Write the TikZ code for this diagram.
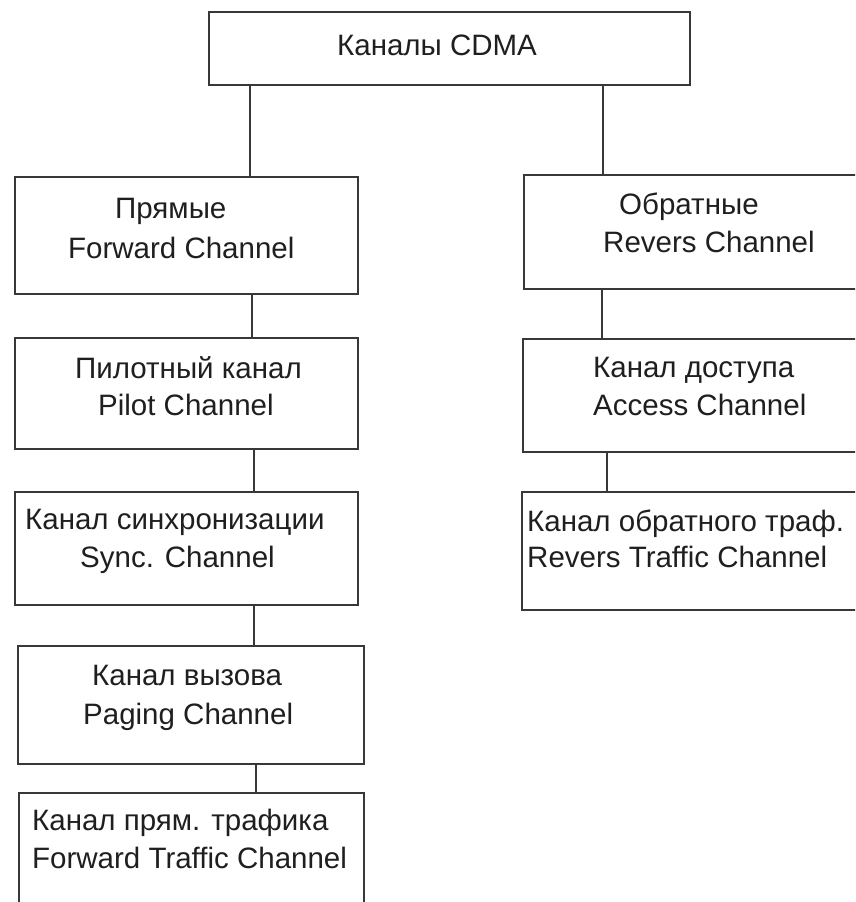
\documentclass[tikz,border=0pt]{standalone}
\usepackage{fontspec}
\setmainfont{Liberation Sans}
\begin{document}
\begin{tikzpicture}[x=1pt,y=-1pt,
  box/.style={draw=black!78,line width=1.5pt,rectangle,anchor=north west,inner sep=0pt},
  lbl/.style={anchor=base west,inner sep=0pt,text=black!88,font=\fontsize{29.5}{36}\selectfont},
  link/.style={draw=black!78,line width=1.5pt}]
\useasboundingbox (0,0) rectangle (855,902);
\fill[white] (0,0) rectangle (855,902);
\clip (0,0) rectangle (855,902);

% root
\node[box,minimum width=481pt,minimum height=73pt] (root) at (208,11) {};
\node[lbl] (rootT) at (337,55) {Каналы CDMA};

% forward channels (left column)
\node[box,minimum width=343pt,minimum height=117pt] (fwd) at (14,176) {};
\node[lbl] (fwdA) at (115,218) {Прямые};
\node[lbl] (fwdB) at (68,258) {Forward Channel};

\node[box,minimum width=343pt,minimum height=111pt] (pilot) at (14,337) {};
\node[lbl] (pilotA) at (75,378) {Пилотный канал};
\node[lbl] (pilotB) at (98,415) {Pilot Channel};

\node[box,minimum width=343pt,minimum height=113pt] (sync) at (14,491) {};
\node[lbl] (syncA) at (25,529) {Канал синхронизации};
\node[lbl] (syncB) at (80,567) {Sync. Channel};

\node[box,minimum width=346pt,minimum height=118pt] (page) at (17,645) {};
\node[lbl] (pageA) at (92,685) {Канал вызова};
\node[lbl] (pageB) at (83,724) {Paging Channel};

\node[box,minimum width=345pt,minimum height=140pt] (ftraf) at (18,792) {};
\node[lbl] (ftrafA) at (32,830) {Канал прям. трафика};
\node[lbl] (ftrafB) at (32,868) {Forward Traffic Channel};

% reverse channels (right column)
\node[box,minimum width=340pt,minimum height=114pt] (rev) at (523,174) {};
\node[lbl] (revA) at (619,214) {Обратные};
\node[lbl] (revB) at (603,252) {Revers Channel};

\node[box,minimum width=341pt,minimum height=113pt] (acc) at (522,338) {};
\node[lbl] (accA) at (593,377) {Канал доступа};
\node[lbl] (accB) at (593,415) {Access Channel};

\node[box,minimum width=342pt,minimum height=118pt] (rtraf) at (521,491) {};
\node[lbl] (rtrafA) at (527,531) {Канал обратного траф.};
\node[lbl] (rtrafB) at (527,567) {Revers Traffic Channel};

% connectors
\draw[link] ([xshift=42pt]root.south west) -- ([xshift=42pt]root.south west |- fwd.north);
\draw[link] ([xshift=395pt]root.south west) -- ([xshift=395pt]root.south west |- rev.north);
\draw[link] ([xshift=238pt]fwd.south west) -- ([xshift=238pt]fwd.south west |- pilot.north);
\draw[link] ([xshift=240pt]pilot.south west) -- ([xshift=240pt]pilot.south west |- sync.north);
\draw[link] ([xshift=240pt]sync.south west) -- ([xshift=240pt]sync.south west |- page.north);
\draw[link] ([xshift=239pt]page.south west) -- ([xshift=239pt]page.south west |- ftraf.north);
\draw[link] ([xshift=79pt]rev.south west) -- ([xshift=79pt]rev.south west |- acc.north);
\draw[link] ([xshift=85pt]acc.south west) -- ([xshift=85pt]acc.south west |- rtraf.north);
\end{tikzpicture}
\end{document}
